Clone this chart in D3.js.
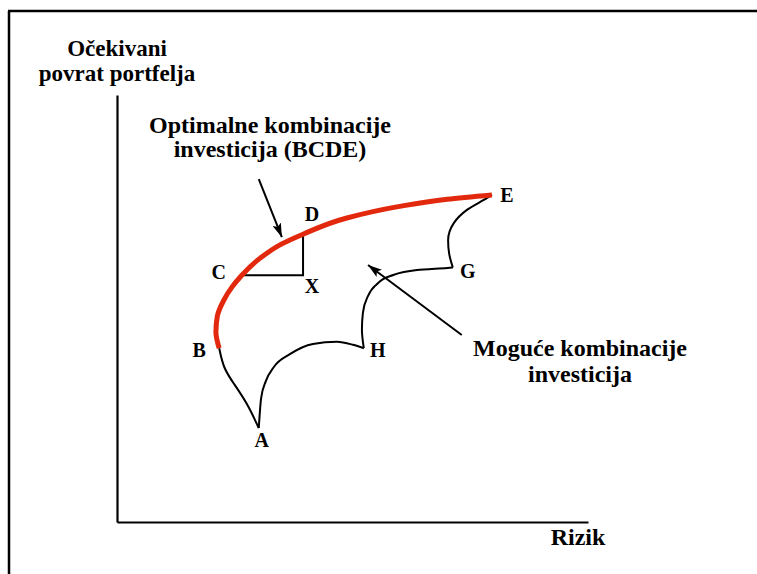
<!DOCTYPE html>
<html>
<head>
<meta charset="utf-8">
<script src="https://cdn.jsdelivr.net/npm/d3@7"></script>
<style>
  html, body { margin: 0; padding: 0; overflow: hidden; background: #fff; }
  svg { display: block; }
</style>
</head>
<body>
<div id="chart"></div>
<script>
const WIDTH = 757;
const HEIGHT = 574;

// risk (x) / expected return (y), both on a 0-100 scale
const frontier = [
  [21.7, 40.7], [21.0, 44.5], [21.3, 48.2], [22.7, 52.0], [24.4, 55.0], [26.5, 57.8],
  [30.4, 61.8], [34.6, 64.9], [39.5, 67.4], [48.8, 71.2], [59.4, 73.8], [70.1, 75.6], [79.6, 76.6]
];
const edgeBA = [[21.7, 40.7], [22.6, 36.0], [24.8, 32.4], [27.6, 27.9], [30.1, 22.0]];
const edgeAH = [[30.1, 22.0], [30.6, 29.0], [31.6, 33.0], [33.3, 36.3], [36.7, 39.3],
  [41.6, 41.7], [46.7, 42.2], [50.1, 41.5], [52.4, 40.7]];
const edgeHG = [[52.4, 40.7], [52.0, 45.0], [52.2, 48.9], [53.1, 52.5], [54.8, 55.3],
  [58.0, 57.6], [63.7, 59.0], [70.1, 59.5], [71.3, 59.6]];
const edgeGE = [[71.3, 59.6], [70.5, 63.0], [70.3, 66.0], [71.5, 70.0], [74.3, 73.1],
  [78.6, 75.9], [79.6, 76.6]];
const rightAngle = [[26.5, 57.8], [39.5, 57.8], [39.5, 67.4]];

// point names with label offsets in px
const points = [
  { name: "A", x: 30.1, y: 22.0, dx: 3, dy: 19 },
  { name: "B", x: 21.7, y: 40.7, dx: -20, dy: 9 },
  { name: "C", x: 26.5, y: 57.8, dx: -23, dy: 4 },
  { name: "D", x: 39.5, y: 67.4, dx: 9, dy: -13 },
  { name: "X", x: 39.5, y: 57.8, dx: 9, dy: 18 },
  { name: "E", x: 79.6, y: 76.6, dx: 15, dy: 7 },
  { name: "G", x: 71.3, y: 59.5, dx: 15, dy: 10 },
  { name: "H", x: 52.4, y: 40.7, dx: 14, dy: 9 }
];

const optimalLabel = ["Optimalne kombinacije", "investicija (BCDE)"];
const possibleLabel = ["Moguće kombinacije", "investicija"];
const yLabel = ["Očekivani", "povrat portfelja"];
const xLabel = "Rizik";

const svg = d3.select("#chart").append("svg")
  .attr("width", WIDTH)
  .attr("height", HEIGHT);

// frame: only its top and left edges fall inside the picture
svg.append("line")
  .attr("x1", 9).attr("y1", 11).attr("x2", 9).attr("y2", HEIGHT)
  .attr("stroke", "#000").attr("stroke-width", 2.5);
svg.append("line")
  .attr("x1", 8).attr("y1", 11).attr("x2", WIDTH).attr("y2", 11)
  .attr("stroke", "#000").attr("stroke-width", 2.5);

const x = d3.scaleLinear().domain([0, 100]).range([117, 588]);
const y = d3.scaleLinear().domain([0, 100]).range([522, 95]);

svg.append("defs").append("marker")
  .attr("id", "arrow")
  .attr("viewBox", "0 0 14 9")
  .attr("refX", 14).attr("refY", 4.5)
  .attr("markerWidth", 14).attr("markerHeight", 9)
  .attr("markerUnits", "userSpaceOnUse")
  .attr("orient", "auto")
  .append("path")
  .attr("d", "M0,0 L14,4.5 L0,9 L3,4.5 Z")
  .attr("fill", "#000");

svg.append("g")
  .attr("transform", `translate(0,${y(0)})`)
  .call(d3.axisBottom(x).ticks(0).tickSize(0))
  .call(g => g.select(".domain").attr("stroke-width", 2.2));
svg.append("g")
  .attr("transform", `translate(${x(0)},0)`)
  .call(d3.axisLeft(y).ticks(0).tickSize(0))
  .call(g => g.select(".domain").attr("stroke-width", 2.2));

const lineY = d3.line()
  .x(d => x(d[0]))
  .y(d => y(d[1]))
  .curve(d3.curveMonotoneY);
const lineX = d3.line()
  .x(d => x(d[0]))
  .y(d => y(d[1]))
  .curve(d3.curveMonotoneX);
const lineB = d3.line()
  .x(d => x(d[0]))
  .y(d => y(d[1]))
  .curve(d3.curveBasis);

[[edgeBA, lineB], [edgeAH, lineX], [edgeHG, lineY], [edgeGE, lineY]].forEach(([edge, gen]) => {
  svg.append("path")
    .attr("d", gen(edge))
    .attr("fill", "none")
    .attr("stroke", "#000")
    .attr("stroke-width", 2);
});

svg.append("path")
  .attr("d", d3.line().x(d => x(d[0])).y(d => y(d[1]))(rightAngle))
  .attr("fill", "none")
  .attr("stroke", "#000")
  .attr("stroke-width", 2);

svg.append("path")
  .attr("d", lineY(frontier))
  .attr("fill", "none")
  .attr("stroke", "#e2290e")
  .attr("stroke-width", 5);

svg.selectAll(".pt")
  .data(points)
  .enter()
  .append("text")
  .attr("x", d => x(d.x) + d.dx)
  .attr("y", d => y(d.y) + d.dy)
  .attr("text-anchor", "middle")
  .attr("font-family", "Liberation Serif")
  .attr("font-weight", "bold")
  .attr("font-size", 20)
  .text(d => d.name);

// annotation arrows
svg.append("line")
  .attr("x1", x(30.1)).attr("y1", y(80.3))
  .attr("x2", x(35.0)).attr("y2", y(66.7))
  .attr("stroke", "#000").attr("stroke-width", 2)
  .attr("marker-end", "url(#arrow)");
svg.append("line")
  .attr("x1", x(73.2)).attr("y1", y(43.8))
  .attr("x2", x(53.3)).attr("y2", y(60.2))
  .attr("stroke", "#000").attr("stroke-width", 2)
  .attr("marker-end", "url(#arrow)");

const addLines = (lines, cx, y0, gap, size) => {
  lines.forEach((t, i) => {
    svg.append("text")
      .attr("x", cx)
      .attr("y", y0 + i * gap)
      .attr("text-anchor", "middle")
      .attr("font-family", "Liberation Serif")
      .attr("font-weight", "bold")
      .attr("font-size", size)
      .text(t);
  });
};

addLines(optimalLabel, 270, 133, 24, 24);
addLines(possibleLabel, 580, 356, 26, 24);
addLines(yLabel, 117, 56, 25, 23);
addLines([xLabel], 578, 545, 0, 24);
</script>
</body>
</html>
